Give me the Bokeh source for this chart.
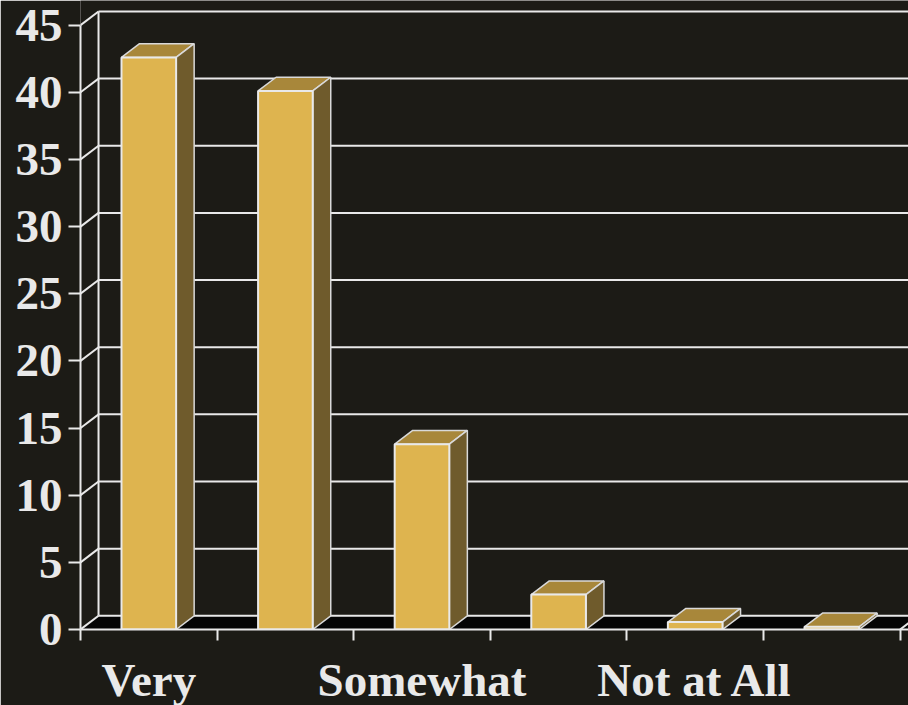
from bokeh.embed import file_html
from bokeh.resources import INLINE
from bokeh.plotting import figure
from bokeh.models import Range1d, LinearAxis, FixedTicker

categories = ["Very", "", "Somewhat", "", "Not at All", ""]
values = [42.6, 40.1, 13.8, 2.6, 0.55, 0.2]
y_ticks = [0, 5, 10, 15, 20, 25, 30, 35, 40, 45]
x_ticks = [0, 1, 2, 3, 4, 5, 6]

BG = "#1c1b16"
LINE = "#e9e9e9"
FRONT = "#deb44f"
TOP = "#a8873a"
SIDE = "#6f5b2c"
FLOOR = "#050505"
DX = 0.132
DY = 1.02
BAR = 0.4
X_MAX = 828 / 136.6
Y_MAX = 629 / 13.43

p = figure(width=908, height=705, frame_width=828, frame_height=629,
           x_range=Range1d(0, X_MAX), y_range=Range1d(0, Y_MAX),
           output_backend="svg", toolbar_location=None,
           background_fill_color=BG, border_fill_color=BG,
           min_border_left=80, min_border_right=0, min_border_top=0, min_border_bottom=76,
           x_axis_location=None, y_axis_location=None)
p.outline_line_color = None
p.grid.visible = False

# y axis
ya = LinearAxis(ticker=FixedTicker(ticks=y_ticks), bounds=(0, 45))
ya.axis_line_color = LINE
ya.axis_line_width = 2
ya.major_tick_line_color = LINE
ya.major_tick_line_width = 2
ya.major_tick_in = 0
ya.major_tick_out = 12
ya.minor_tick_line_color = None
ya.major_label_standoff = 6
ya.major_label_text_font = "Liberation Serif"
ya.major_label_text_font_style = "bold"
ya.major_label_text_font_size = "47px"
ya.major_label_text_color = LINE
p.add_layout(ya, "left")

# x axes: ticks at category edges, labels at category centres
xt = LinearAxis(ticker=FixedTicker(ticks=x_ticks))
xt.axis_line_color = LINE
xt.axis_line_width = 2
xt.major_tick_line_color = LINE
xt.major_tick_line_width = 2
xt.major_tick_in = 0
xt.major_tick_out = 11
xt.minor_tick_line_color = None
xt.major_label_text_font_size = "0px"
xt.major_label_standoff = 0
xt.major_label_overrides = {t: "" for t in x_ticks}
p.add_layout(xt, "below")

label_pos = [i + 0.5 for i, c in enumerate(categories) if c]
xl = LinearAxis(ticker=FixedTicker(ticks=label_pos))
xl.axis_line_color = None
xl.major_tick_line_color = None
xl.minor_tick_line_color = None
xl.major_label_overrides = {i + 0.5: c for i, c in enumerate(categories) if c}
xl.major_label_standoff = 7
xl.major_label_text_font = "Liberation Serif"
xl.major_label_text_font_style = "bold"
xl.major_label_text_font_size = "47px"
xl.major_label_text_color = LINE
p.add_layout(xl, "below")

# floor
p.patch([0, X_MAX, X_MAX, DX], [0, 0, DY, DY], fill_color=FLOOR, line_color=None)
# walls and gridlines
p.segment(x0=[DX] * len(y_ticks), y0=[t + DY for t in y_ticks],
          x1=[X_MAX] * len(y_ticks), y1=[t + DY for t in y_ticks], line_color=LINE, line_width=2)
p.segment(x0=[0] * len(y_ticks), y0=y_ticks,
          x1=[DX] * len(y_ticks), y1=[t + DY for t in y_ticks], line_color=LINE, line_width=2)
p.segment(x0=[DX], y0=[DY], x1=[DX], y1=[45 + DY], line_color=LINE, line_width=2)
p.segment(x0=[6], y0=[0], x1=[6 + DX], y1=[DY], line_color=LINE, line_width=2)

# bars
lefts = [i + 0.5 - BAR / 2 for i in range(len(values))]
rights = [l + BAR for l in lefts]
p.patches([[l, r, r + DX, l + DX] for l, r in zip(lefts, rights)],
          [[v, v, v + DY, v + DY] for v in values],
          fill_color=TOP, line_color="#d9d9d9", line_width=1.5)
p.patches([[r, r + DX, r + DX, r] for r in rights],
          [[0, DY, v + DY, v] for v in values],
          fill_color=SIDE, line_color="#d9d9d9", line_width=1.5)
p.quad(left=lefts, right=rights, bottom=0, top=values,
       fill_color=FRONT, line_color=LINE, line_width=2)

html = file_html(p, INLINE)
html = html.replace("<body>", '<body style="margin:0;background:%s">' % BG, 1)
open("out.html", "w").write(html)
